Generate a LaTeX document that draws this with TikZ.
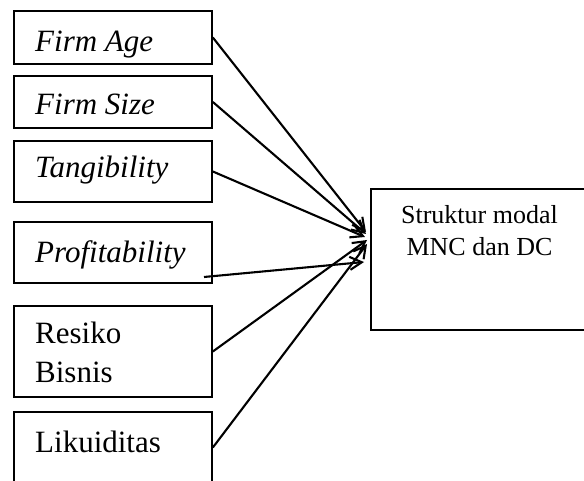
\documentclass[tikz,border=0pt]{standalone}
\usepackage{fontspec}
\setmainfont{Liberation Serif}
\usetikzlibrary{arrows.meta}
\begin{document}
\begin{tikzpicture}[x=1pt,y=-1pt,
  box/.style={draw,line width=1.7pt,inner sep=0pt},
  lbl/.style={anchor=base west,inner sep=0pt,font=\fontsize{31}{38}\selectfont},
  tlbl/.style={anchor=base,inner sep=0pt,font=\fontsize{26}{31}\selectfont},
  arr/.style={line width=2.1pt,-{Straight Barb[length=12pt,width=13pt,line width=2.1pt]}}]
\useasboundingbox (0,0) rectangle (584,481);
% boxes
\node[box,minimum width=198pt,minimum height=53pt] (b1) at (113,37.5) {};
\node[box,minimum width=198pt,minimum height=52pt] (b2) at (113,102) {};
\node[box,minimum width=198pt,minimum height=61pt] (b3) at (113,171.5) {};
\node[box,minimum width=198pt,minimum height=61pt] (b4) at (113,252.5) {};
\node[box,minimum width=198pt,minimum height=91pt] (b5) at (113,351.5) {};
\node[box,minimum width=198pt,minimum height=71pt] (b6) at (113,447.5) {};
\node[box,minimum width=217pt,minimum height=141pt] (t) at (479.5,259.5) {};
% labels
\node[lbl] (l1) at (35,52) {\itshape Firm Age};
\node[lbl] (l2) at (35,115) {\itshape Firm Size};
\node[lbl] (l3) at (35,178) {\itshape Tangibility};
\node[lbl] (l4) at (35,262) {\itshape Profitability};
\node[lbl] (l5a) at (35,343) {Resiko};
\node[lbl] (l5b) at (35,382) {Bisnis};
\node[lbl] (l6) at (35,452) {Likuiditas};
\node[tlbl] (t1) at (479.5,224) {Struktur modal};
\node[tlbl] (t2) at (479.5,256) {MNC dan DC};
% arrow end points
\coordinate (e1) at (366,232);
\coordinate (e2) at (366,234);
\coordinate (e3) at (365,237);
\coordinate (e4) at (364,262);
\coordinate (e5) at (367,240);
\coordinate (e6) at (367,244);
\coordinate (s4) at (204,277);
\draw[arr] (b1.east) -- (e1);
\draw[arr] (b2.east) -- (e2);
\draw[arr] (b3.east) -- (e3);
\draw[arr] (s4) -- (e4);
\draw[arr] (b5.east) -- (e5);
\draw[arr] (b6.east) -- (e6);
\end{tikzpicture}
\end{document}
